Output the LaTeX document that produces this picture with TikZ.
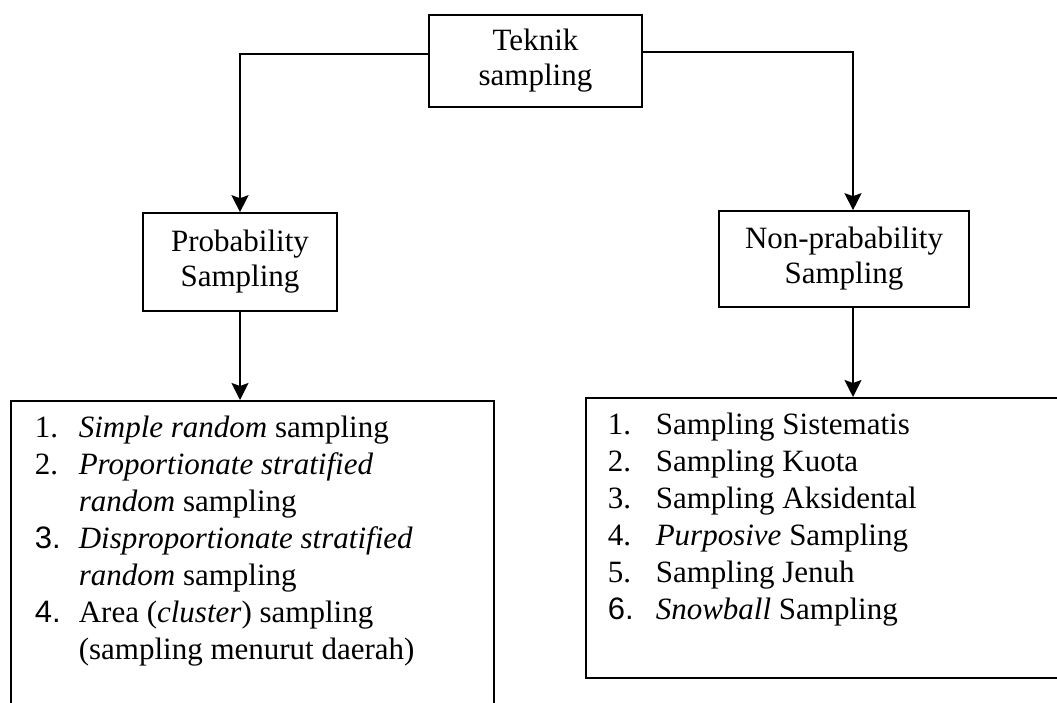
\documentclass[tikz,border=0pt]{standalone}
\usepackage{fontspec}
\setmainfont{Liberation Serif}
\newfontfamily\numsans{Liberation Sans}
\usepackage{array}
\usetikzlibrary{arrows.meta}

\begin{document}
\begin{tikzpicture}[
  x=1pt,y=-1pt,
  >={Stealth[length=17pt,width=17pt,inset=3pt]},
  catbox/.style={draw,line width=1.6pt,align=center,inner sep=0pt,font=\fontsize{31}{35}\selectfont},
  listbox/.style={draw,line width=1.6pt,anchor=north west,inner ysep=11pt,font=\fontsize{31}{36.9}\selectfont},
  ar/.style={->,line width=1.8pt}
]
\useasboundingbox (0,0) rectangle (1057,703);
\clip (0,0) rectangle (1057,703);

% TOP: root of the classification
\node[catbox,minimum width=213pt,minimum height=92pt] (teknik) at (535.5,61) {Teknik\\sampling};

% MIDDLE: the two families
\node[catbox,minimum width=194pt,minimum height=98pt] (prob) at (240,262) {Probability\\Sampling};
\node[catbox,minimum width=250pt,minimum height=96pt] (nonprob) at (844,259) {Non-prabability\\Sampling};
\coordinate (nhead) at ([xshift=9pt]nonprob.north);
\draw[ar] ([yshift=7pt]teknik.west) -| (prob.north);
\draw[ar] ([yshift=9pt]teknik.east) -| (nhead);

% BOTTOM: the techniques of each family
\node[listbox,inner xsep=24pt] (plist) at (10,400) {%
\begin{tabular}{@{}p{44pt}@{}p{391pt}@{}}
1. & \textit{Simple random} sampling\\
2. & \textit{Proportionate stratified}\\
   & \textit{random} sampling\\
{\numsans 3.} & \textit{Disproportionate stratified}\\
   & \textit{random} sampling\\
{\numsans 4.} & Area (\textit{cluster}) sampling\\
   & (sampling menurut daerah)\\
   &
\end{tabular}};
\node[listbox,inner xsep=22pt] (nlist) at (585,397) {%
\begin{tabular}{@{}p{48pt}@{}p{393pt}@{}}
1. & Sampling Sistematis\\
2. & Sampling Kuota\\
3. & Sampling Aksidental\\
4. & \textit{Purposive} Sampling\\
5. & Sampling Jenuh\\
{\numsans 6.} & \textit{Snowball} Sampling\\
   &
\end{tabular}};
\coordinate (nfoot) at ([xshift=9pt]nonprob.south);
\draw[ar] (prob.south) -- (prob.south |- plist.north);
\draw[ar] (nfoot) -- (nfoot |- nlist.north);
\end{tikzpicture}
\end{document}
